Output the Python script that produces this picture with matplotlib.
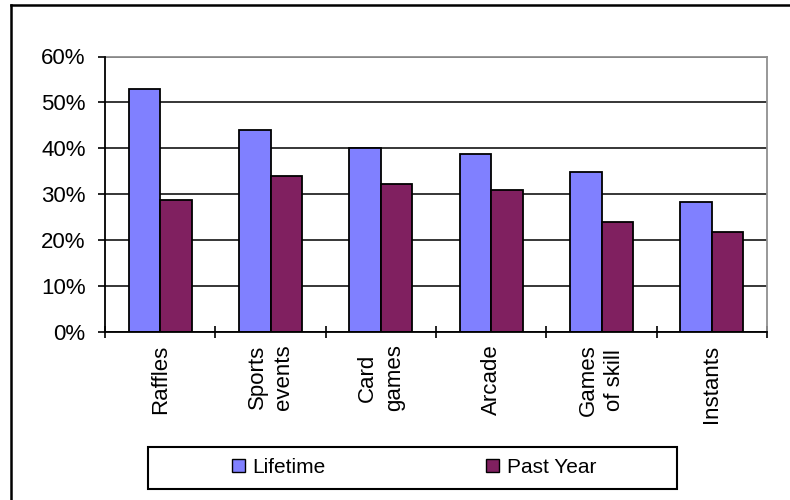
import numpy as np
import matplotlib
matplotlib.use('Agg')
import matplotlib.pyplot as plt
from matplotlib.patches import Rectangle, Patch
from matplotlib.lines import Line2D
from matplotlib.ticker import FixedLocator, PercentFormatter

plt.rcParams['font.family'] = ['Liberation Sans', 'DejaVu Sans']

categories = ['Raffles', 'Sports\nevents', 'Card\ngames', 'Arcade', 'Games\nof skill', 'Instants']
lifetime = [53.0, 43.9, 40.0, 38.7, 34.8, 28.3]
past_year = [28.8, 33.9, 32.2, 30.9, 23.9, 21.7]

fig = plt.figure(figsize=(7.9, 5.0), dpi=100)
ax = fig.add_axes([105 / 790, 1 - 332 / 500, (767 - 105) / 790, (332 - 56.5) / 500])

x = np.arange(len(categories))
w = 1 / 3.5
ax.bar(x - w / 2, lifetime, w, color='#8080FF', edgecolor='black', linewidth=1.3, zorder=3)
ax.bar(x + w / 2, past_year, w, color='#802060', edgecolor='black', linewidth=1.3, zorder=3)

ax.set_xlim(-0.5, len(categories) - 0.5)
ax.set_ylim(0, 60)
ax.set_yticks([0, 10, 20, 30, 40, 50, 60])
ax.yaxis.set_major_formatter(PercentFormatter(decimals=0))
ax.grid(axis='y', color='black', linewidth=1.1, zorder=1)

# category boundaries get the tick marks, names sit between them
ax.xaxis.set_major_locator(FixedLocator(np.arange(len(categories) + 1) - 0.5))
ax.xaxis.set_minor_locator(FixedLocator(x))
ax.set_xticklabels([], minor=False)
ax.set_xticklabels(categories, minor=True, rotation=90, va='top', ha='center',
                   multialignment='center', linespacing=1.35, fontsize=16)
ax.tick_params(axis='x', which='major', direction='inout', length=9, width=1.2)
ax.tick_params(axis='x', which='minor', length=0, pad=9)
ax.tick_params(axis='y', direction='out', length=5, width=1.2, pad=9, labelsize=16)

for side in ['left', 'bottom']:
    ax.spines[side].set_linewidth(1.3)
    ax.spines[side].set_zorder(4)
for side in ['top', 'right']:
    ax.spines[side].set_color('#909090')
    ax.spines[side].set_linewidth(1.3)

# legend with its own box
fig.patches.append(Rectangle((147.5 / 790, 1 - 489 / 500), (677 - 147.5) / 790, 42 / 500,
                             transform=fig.transFigure, fill=False, edgecolor='black', linewidth=1.5))
handles = [Patch(facecolor='#8080FF', edgecolor='black', label='Lifetime'),
           Patch(facecolor='#802060', edgecolor='black', label='Past Year')]
fig.legend(handles=handles, loc='center', bbox_to_anchor=(414 / 790, 1 - 467.5 / 500), ncol=2,
           frameon=False, fontsize=15, handlelength=0.62, handleheight=0.62,
           handletextpad=0.38, columnspacing=7.7, borderpad=0)

# outer chart frame
fig.lines.append(Line2D([10.5 / 790, 1], [1 - 5 / 500, 1 - 5 / 500], transform=fig.transFigure,
                        color='black', linewidth=1.8))
fig.lines.append(Line2D([10.5 / 790, 10.5 / 790], [0, 1 - 5 / 500], transform=fig.transFigure,
                        color='black', linewidth=1.8))

fig.savefig('out.png', dpi=100)
